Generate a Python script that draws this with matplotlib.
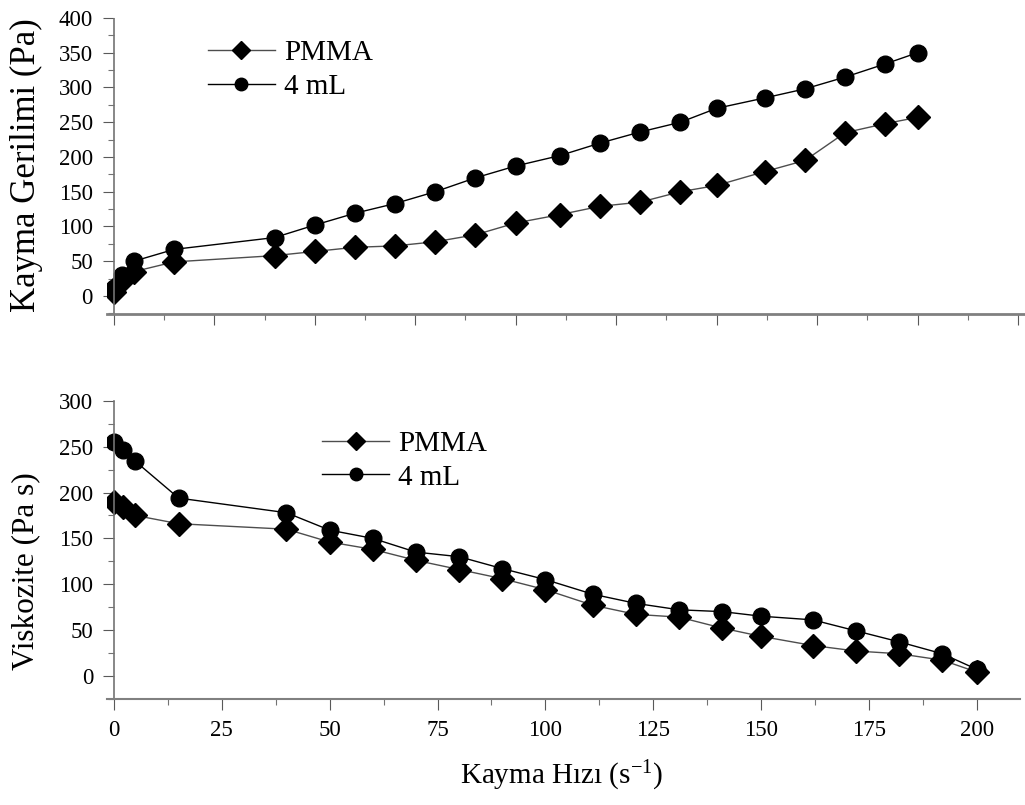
import matplotlib
matplotlib.use("Agg")
import matplotlib.pyplot as plt
from matplotlib.ticker import MultipleLocator

plt.rcParams['font.family'] = ['Liberation Serif', 'DejaVu Serif']
plt.rcParams['mathtext.fontset'] = 'custom'
plt.rcParams['mathtext.rm'] = 'Liberation Serif'
plt.rcParams['mathtext.default'] = 'regular'

# kayma hizi (s^-1)
hiz = [0, 2, 5, 15, 40, 50, 60, 70, 80, 90, 100, 111, 121, 131, 141, 150, 162, 172, 182, 192, 200]

# kayma gerilimi (Pa)
gerilim_pmma = [5, 22, 35, 49, 58, 64, 70, 72, 78, 88, 105, 117, 129, 135, 150, 159, 179, 195, 235, 248, 257]
gerilim_4ml = [12, 30, 50, 67, 84, 102, 119, 133, 150, 170, 187, 202, 220, 236, 250, 270, 285, 298, 315, 334, 350]

# viskozite (Pa s)
visk_pmma = [190, 184, 175, 166, 160, 146, 138, 126, 116, 106, 94, 77, 67, 64, 52, 43, 33, 27, 24, 17, 4]
visk_4ml = [255, 247, 234, 194, 178, 159, 150, 135, 130, 117, 105, 89, 79, 72, 70, 65, 61, 49, 37, 24, 7]

etiketler = ['PMMA', '4 mL']

fig = plt.figure(figsize=(10.25, 8.05), dpi=100)
ax1 = fig.add_axes([107/1025, 1-314/805, (1024-107)/1025, (314-18)/805])
ax2 = fig.add_axes([107/1025, 1-699/805, (1020-107)/1025, (699-401)/805])

def stil(ax, alt_duz):
    for s in ['top', 'right']:
        ax.spines[s].set_visible(False)
    ax.spines['left'].set_position(('data', 0))
    ax.spines['left'].set_color('0.45')
    ax.spines['left'].set_linestyle((0, (1, 1)))
    ax.spines['left'].set_linewidth(1.2)
    ax.spines['bottom'].set_color('0.5')
    if alt_duz:
        ax.spines['bottom'].set_linewidth(2)
    else:
        ax.spines['bottom'].set_linestyle((0, (1, 1)))
        ax.spines['bottom'].set_linewidth(1.5)
    ax.xaxis.set_major_locator(MultipleLocator(25))
    ax.xaxis.set_minor_locator(MultipleLocator(12.5))
    ax.yaxis.set_major_locator(MultipleLocator(50))
    ax.yaxis.set_minor_locator(MultipleLocator(25))
    ax.tick_params(which='major', direction='out', length=8, width=0.8, color='0.35',
                   labelsize=16.5, pad=7)
    ax.tick_params(which='minor', direction='out', length=4, width=0.8, color='0.45')

lejant = dict(loc='center left', frameon=False, fontsize=21, handlelength=2.3,
              handletextpad=0.3, labelspacing=0.25, borderpad=0, borderaxespad=0,
              markerscale=0.75)

# ust panel
ax1.plot(hiz, gerilim_pmma, color='0.3', lw=1, marker='D', ms=12, mfc='black', mec='black', label=etiketler[0])
ax1.plot(hiz, gerilim_4ml, color='black', lw=1, marker='o', ms=12, mfc='black', mec='black', label=etiketler[1])
ax1.set_xlim(-1.7, 226.5)
ax1.set_ylim(-26, 400)
stil(ax1, True)
ax1.tick_params(axis='x', labelbottom=False)
ax1.legend(bbox_to_anchor=(0.110, 0.824), **lejant)

# alt panel
ax2.plot(hiz, visk_pmma, color='0.3', lw=1, marker='D', ms=12, mfc='black', mec='black', label=etiketler[0])
ax2.plot(hiz, visk_4ml, color='black', lw=1, marker='o', ms=12, mfc='black', mec='black', label=etiketler[1])
ax2.set_xlim(-1.6, 210)
ax2.set_ylim(-25.4, 300)
stil(ax2, False)
ax2.legend(bbox_to_anchor=(0.2355, 0.80), **lejant)

fig.text(26/1025, 1-165/805, 'Kayma Gerilimi (Pa)', rotation=90, ha='center', va='center', fontsize=25)
fig.text(26/1025, 1-571/805, 'Viskozite (Pa s)', rotation=90, ha='center', va='center', fontsize=22.5)
fig.text(561/1025, 1-776/805, 'Kayma Hızı (s$^{-1}$)', ha='center', va='center', fontsize=21)

fig.savefig('out.png', dpi=100)
